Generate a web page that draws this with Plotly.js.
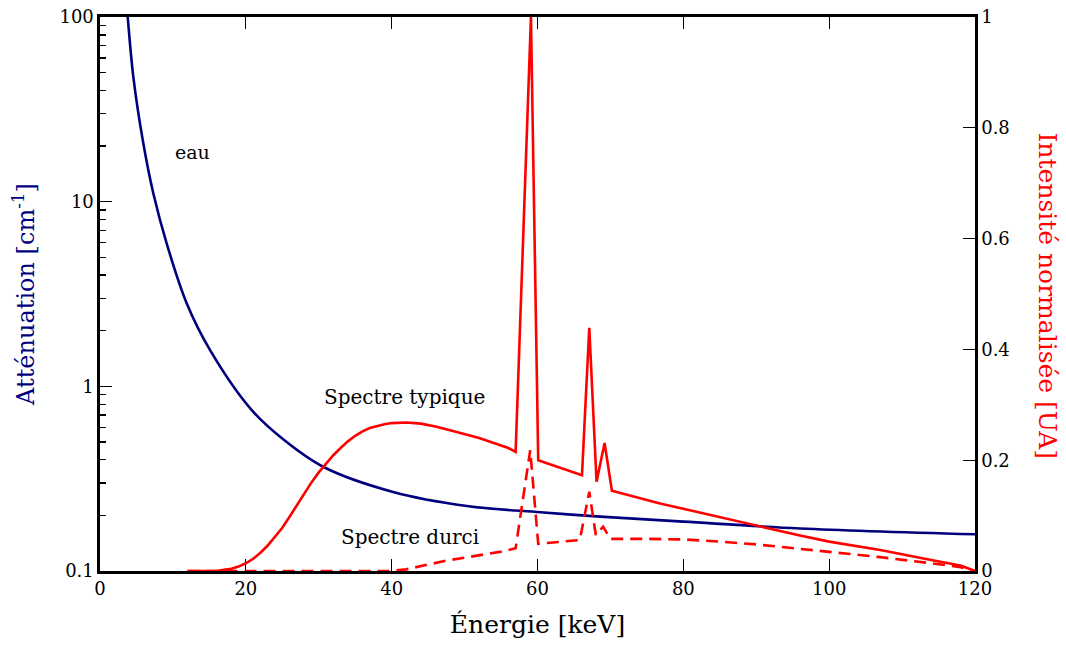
<!DOCTYPE html>
<html>
<head>
<meta charset="utf-8">
<script src="https://cdn.plot.ly/plotly-3.0.1.min.js"></script>
<style>html,body{margin:0;padding:0;background:#fff;}#chart{width:1066px;height:647px;}</style>
</head>
<body>
<div id="chart"></div>
<script>
// Water attenuation (cm^-1) vs energy (keV)
const waterEnergy = [3.5, 3.8, 4.57, 5.94, 7.31, 9.14, 11.9, 15.1, 20.6, 24.7, 30.6, 40.2, 50.3, 60.4, 68.6, 80, 96, 120];
const waterMu     = [140, 100, 47.4, 20.7, 11.1, 5.94, 2.81, 1.57, 0.76, 0.533, 0.367, 0.268, 0.225, 0.208, 0.197, 0.185, 0.170, 0.158];

// Typical spectrum (normalised intensity)
const typEnergy = [12, 16, 17, 18, 19, 20, 21, 22, 23, 24, 25, 26, 27, 28, 29, 30, 31, 32, 33, 34, 35, 36, 37, 38, 39, 40, 42, 44, 46, 48, 50, 52, 54, 56, 57.0, 59.1, 60.1, 63, 66.1, 67.1, 68.1, 69.2, 70.2, 76.8, 85, 89.2, 96, 100, 107, 114, 118, 120];
const typValue  = [0, 0, 0.002, 0.004, 0.008, 0.014, 0.022, 0.033, 0.046, 0.061, 0.078, 0.098, 0.119, 0.140, 0.160, 0.178, 0.194, 0.209, 0.222, 0.234, 0.244, 0.252, 0.258, 0.262, 0.265, 0.267, 0.268, 0.266, 0.261, 0.254, 0.247, 0.240, 0.231, 0.222, 0.215, 1.0, 0.2, 0.187, 0.173, 0.439, 0.161, 0.231, 0.145, 0.122, 0.097, 0.084, 0.064, 0.053, 0.038, 0.020, 0.010, 0];

// Hardened spectrum (normalised intensity)
const durEnergy = [12, 39.8, 42, 45, 47.6, 50, 55, 57.0, 59.0, 60.1, 65.8, 67.1, 68.0, 69.0, 70.0, 75, 80, 85, 90, 96, 100, 107, 114, 118, 120];
const durValue  = [0, 0, 0.003, 0.011, 0.019, 0.024, 0.035, 0.041, 0.218, 0.049, 0.056, 0.143, 0.065, 0.080, 0.058, 0.058, 0.057, 0.053, 0.048, 0.040, 0.035, 0.025, 0.014, 0.007, 0];

const xTicks = [0, 20, 40, 60, 80, 100, 120];
const yTicks = [0.1, 1, 10, 100];
const yTickText = ['0.1', '1', '10', '100'];
const yMinorTicks = [0.2, 0.3, 0.4, 0.5, 0.6, 0.7, 0.8, 0.9, 2, 3, 4, 5, 6, 7, 8, 9, 20, 30, 40, 50, 60, 70, 80, 90];
const y2Ticks = [0, 0.2, 0.4, 0.6, 0.8, 1];
const y2TickText = ['0', '0.2', '0.4', '0.6', '0.8', '1'];

const FONT = 'DejaVu Serif, Liberation Serif, serif';
const NAVY = '#00007f';
const RED = '#ff0000';

const traces = [
  {x: waterEnergy, y: waterMu, type: 'scatter', mode: 'lines', yaxis: 'y',
   line: {color: NAVY, width: 2.6, shape: 'spline', smoothing: 1}, hoverinfo: 'skip'},
  {x: durEnergy, y: durValue, type: 'scatter', mode: 'lines', yaxis: 'y2',
   line: {color: RED, width: 2.6, dash: '12px,7px'}, cliponaxis: false, hoverinfo: 'skip'},
  {x: typEnergy, y: typValue, type: 'scatter', mode: 'lines', yaxis: 'y2',
   line: {color: RED, width: 2.6}, cliponaxis: false, hoverinfo: 'skip'}
];

const layout = {
  width: 1066, height: 647,
  margin: {l: 100, r: 91, t: 17, b: 76},
  paper_bgcolor: '#fff', plot_bgcolor: '#fff',
  showlegend: false,
  font: {family: FONT, size: 18, color: '#000'},
  xaxis: {
    range: [0, 120], tickvals: xTicks, ticktext: xTicks.map(String),
    ticks: 'inside', ticklen: 12, tickwidth: 1.3, tickcolor: '#000',
    showline: true, linecolor: '#000', linewidth: 2.6, mirror: 'ticks',
    showgrid: false, zeroline: false,
    tickfont: {family: FONT, size: 18},
    title: {text: 'Énergie [keV]', font: {family: FONT, size: 25}, standoff: 18},
    layer: 'below traces'
  },
  yaxis: {
    type: 'log', range: [-1, 2], tickvals: yTicks, ticktext: yTickText,
    ticks: 'inside', ticklen: 12, tickwidth: 1.3, tickcolor: '#000',
    minor: {tickvals: yMinorTicks, ticks: 'inside', ticklen: 6, tickwidth: 1.3, tickcolor: '#000', showgrid: false},
    showline: true, linecolor: '#000', linewidth: 2.6,
    showgrid: false, zeroline: false,
    tickfont: {family: FONT, size: 18},
    title: {text: 'Atténuation [cm<sup>-1</sup>]', font: {family: FONT, size: 24, color: NAVY}, standoff: 18},
    layer: 'below traces'
  },
  yaxis2: {
    overlaying: 'y', side: 'right', range: [0, 1],
    tickvals: y2Ticks, ticktext: y2TickText,
    ticks: 'inside', ticklen: 12, tickwidth: 1.3, tickcolor: '#000',
    showline: true, linecolor: '#000', linewidth: 2.6,
    showgrid: false, zeroline: false,
    tickfont: {family: FONT, size: 18},
    layer: 'below traces'
  },
  annotations: [
    {text: 'eau', x: 12.7, y: 0.756, xref: 'x', yref: 'paper', xanchor: 'center', yanchor: 'middle', showarrow: false,
     font: {family: FONT, size: 19, color: '#000'}},
    {text: 'Spectre typique', x: 41.8, y: 0.314, xref: 'x', yref: 'paper', xanchor: 'center', yanchor: 'middle', showarrow: false,
     font: {family: FONT, size: 20, color: '#000'}},
    {text: 'Spectre durci', x: 42.5, y: 0.061, xref: 'x', yref: 'paper', xanchor: 'center', yanchor: 'middle', showarrow: false,
     font: {family: FONT, size: 20, color: '#000'}},
    {text: 'Intensité normalisée [UA]', x: 1.083, y: 0.498, xref: 'paper', yref: 'paper', xanchor: 'center', yanchor: 'middle',
     showarrow: false, textangle: 90, font: {family: FONT, size: 25, color: RED}}
  ]
};

Plotly.newPlot('chart', traces, layout, {staticPlot: true, displayModeBar: false});
</script>
</body>
</html>
